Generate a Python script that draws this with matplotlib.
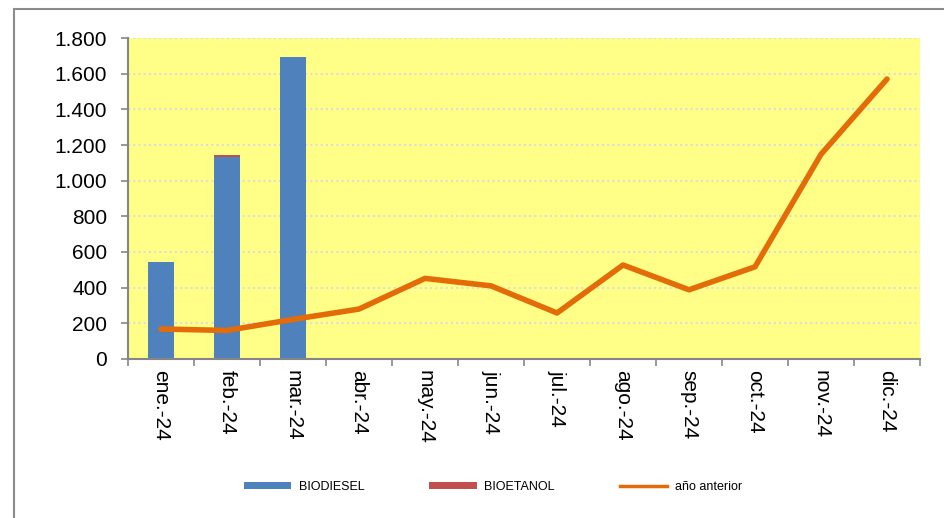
import matplotlib.pyplot as plt
import numpy as np
from matplotlib.patches import Rectangle
from matplotlib.lines import Line2D

plt.rcParams['font.family'] = ['Liberation Sans', 'DejaVu Sans']

months = ["ene.-24", "feb.-24", "mar.-24", "abr.-24", "may.-24", "jun.-24",
          "jul.-24", "ago.-24", "sep.-24", "oct.-24", "nov.-24", "dic.-24"]
biodiesel = [545, 1130, 1695, 0, 0, 0, 0, 0, 0, 0, 0, 0]
bioetanol = [0, 12, 0, 0, 0, 0, 0, 0, 0, 0, 0, 0]
anio_anterior = [168, 160, 222, 280, 452, 410, 258, 527, 388, 517, 1148, 1570]

def fmt_miles(v, pos):
    return f"{int(v):,}".replace(",", ".")

fig = plt.figure(figsize=(9.44, 5.18), dpi=100)
ax = fig.add_axes([0.1356, 0.307, 0.8390, 0.6196])
ax.set_facecolor("#FFFF88")

x = np.arange(len(months))
b1 = ax.bar(x, biodiesel, width=0.4, color="#4F81BD", label="BIODIESEL", zorder=2)
b2 = ax.bar(x, bioetanol, width=0.4, bottom=biodiesel, color="#C0504D", label="BIOETANOL", zorder=2)
ax.plot(x, anio_anterior, color="#E36C09", lw=4, solid_capstyle="round",
        solid_joinstyle="round", label="año anterior", zorder=3)

ax.set_xlim(-0.5, len(months) - 0.5)
ax.set_ylim(0, 1800)
ax.set_yticks(np.arange(0, 1801, 200))
ax.yaxis.set_major_formatter(plt.FuncFormatter(fmt_miles))
ax.yaxis.grid(True, color="#DCDCDC", linestyle=(0, (1, 1.5)), lw=1.5, zorder=1)
ax.set_axisbelow(True)

ax.set_xticks(x)
ax.set_xticklabels(months, rotation=-90, fontsize=15)
ax.set_xticks(np.arange(-0.5, len(months)), minor=True)
ax.tick_params(axis="x", which="major", length=0, pad=8)
ax.tick_params(axis="x", which="minor", length=5, color="#868686", width=1.2)
ax.tick_params(axis="y", length=5, color="#868686", width=1.2, labelsize=15, pad=10)

for side in ["top", "right"]:
    ax.spines[side].set_visible(False)
for side in ["left", "bottom"]:
    ax.spines[side].set_color("#868686")
    ax.spines[side].set_linewidth(1.5)

ln_handle = Line2D([], [], color="#E36C09", lw=2.5)
fig.legend([b1, b2, ln_handle], ["BIODIESEL", "BIOETANOL", "año anterior"],
           loc="center", bbox_to_anchor=(0.522, 0.06), ncol=3, frameon=False,
           fontsize=9, handlelength=3.8, handleheight=0.55, columnspacing=5.2,
           handletextpad=0.6)

fig.patches.append(Rectangle((14 / 944, -0.05), 1.0, 1 - 9 / 518 + 0.05,
                             transform=fig.transFigure, fill=False,
                             edgecolor="#8C8C8C", lw=1.5))

fig.savefig("out.png", dpi=100)
